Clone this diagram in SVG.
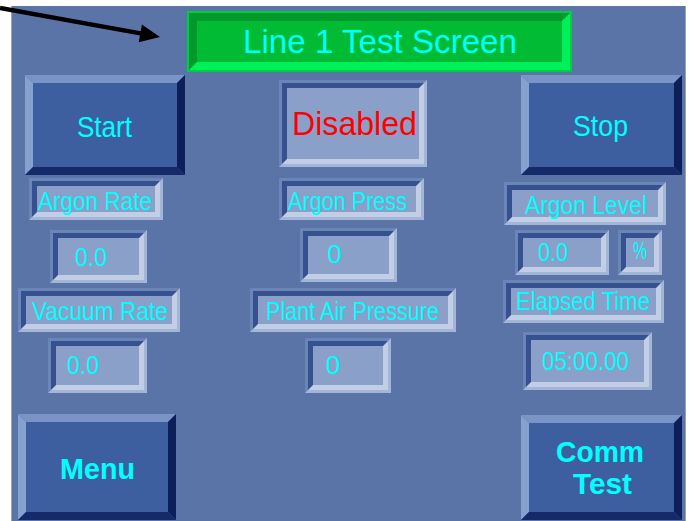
<svg xmlns="http://www.w3.org/2000/svg" width="691" height="521" viewBox="0 0 691 521">
  <style>
    .page { fill: #ffffff; }
    .panel { fill: #5b74a8; }
    .edge { fill: #9aa3b8; }
    .bf { fill: #3d5f9f; }
    .bt { fill: #7a94c5; }
    .bl { fill: #87a1cf; }
    .br { fill: #0d1f5a; }
    .bb { fill: #15296b; }
    .fr { fill: #6c85b7; }
    .fo { fill: #a4b6d7; }
    .dk { fill: #35518f; }
    .lt { fill: #c1cee6; }
    .fc { fill: #8aa0c8; }
    .t { font-family: "Liberation Sans", Arial, sans-serif; fill: #00ffff; text-anchor: middle; }
    .lbl { font-size: 25px; }
    .val { font-size: 26px; }
    .btxt { font-size: 30px; }
    .bold { font-size: 30px; font-weight: bold; }
    .arrow { stroke: #000000; stroke-width: 4.5; fill: none; }
    .head { fill: #000000; }
  </style>

  <!-- screen background -->
  <rect class="page" x="0" y="0" width="691" height="521"/>
  <rect class="panel" x="11" y="6" width="675" height="515"/>
  <rect class="edge" x="11" y="6" width="1" height="515"/>
  <rect class="edge" x="685" y="6" width="1" height="515"/>

  <!-- title banner -->
  <g id="title">
    <rect x="187" y="11" width="385" height="61" fill="#00cc44"/>
    <rect x="189" y="13" width="381" height="57" fill="#009a2a"/>
    <path d="M570,13 L570,70 L189,70 L197,62 L562,62 L562,21 Z" fill="#00f05a"/>
    <rect x="197" y="21" width="365" height="41" fill="#00bb33"/>
    <text class="t" x="380" y="53" font-size="34" textLength="274" lengthAdjust="spacingAndGlyphs">Line 1 Test Screen</text>
  </g>

  <!-- command buttons -->
  <g id="start">
    <rect class="bf" x="25" y="75" width="160" height="100"/>
    <polygon class="bt" points="25,75 185,75 177,83 33,83"/>
    <polygon class="bl" points="25,75 33,83 33,167 25,175"/>
    <polygon class="br" points="185,75 185,175 177,167 177,83"/>
    <polygon class="bb" points="25,175 185,175 177,167 33,167"/>
    <text class="t btxt" x="104.5" y="137" textLength="55" lengthAdjust="spacingAndGlyphs">Start</text>
  </g>

  <g id="stop">
    <rect class="bf" x="521" y="75" width="161" height="100"/>
    <polygon class="bt" points="521,75 682,75 674,83 529,83"/>
    <polygon class="bl" points="521,75 529,83 529,167 521,175"/>
    <polygon class="br" points="682,75 682,175 674,167 674,83"/>
    <polygon class="bb" points="521,175 682,175 674,167 529,167"/>
    <text class="t btxt" x="600.5" y="136" textLength="55" lengthAdjust="spacingAndGlyphs">Stop</text>
  </g>

  <g id="menu">
    <rect class="bf" x="18" y="414" width="158" height="106"/>
    <polygon class="bt" points="18,414 176,414 168,422 26,422"/>
    <polygon class="bl" points="18,414 26,422 26,512 18,520"/>
    <polygon class="br" points="176,414 176,520 168,512 168,422"/>
    <polygon class="bb" points="18,520 176,520 168,512 26,512"/>
    <text class="t bold" x="97.5" y="479" textLength="75" lengthAdjust="spacingAndGlyphs">Menu</text>
  </g>

  <g id="comm-test">
    <rect class="bf" x="521" y="415" width="161" height="105"/>
    <polygon class="bt" points="521,415 682,415 674,423 529,423"/>
    <polygon class="bl" points="521,415 529,423 529,512 521,520"/>
    <polygon class="br" points="682,415 682,520 674,512 674,423"/>
    <polygon class="bb" points="521,520 682,520 674,512 529,512"/>
    <text class="t bold" x="600" y="462" textLength="88" lengthAdjust="spacingAndGlyphs">Comm</text>
    <text class="t bold" x="602.5" y="494" textLength="59" lengthAdjust="spacingAndGlyphs">Test</text>
  </g>

  <!-- status display -->
  <g id="status">
    <rect class="fr" x="279" y="80" width="148" height="87"/>
    <path class="fo" d="M427,80 L427,167 L279,167 L282,164 L424,164 L424,83 Z"/>
    <rect class="dk" x="282" y="83" width="142" height="81"/>
    <path class="lt" d="M424,83 L424,164 L282,164 L287,159 L419,159 L419,88 Z"/>
    <rect class="fc" x="287" y="88" width="132" height="71"/>
    <text class="t" x="354.5" y="135" font-size="34" style="fill:#ff0000" textLength="125" lengthAdjust="spacingAndGlyphs">Disabled</text>
  </g>

  <!-- argon rate -->
  <g id="argon-rate-label">
    <rect class="fr" x="29" y="178" width="134" height="42"/>
    <path class="fo" d="M163,178 L163,220 L29,220 L32,217 L160,217 L160,181 Z"/>
    <rect class="dk" x="32" y="181" width="128" height="36"/>
    <path class="lt" d="M160,181 L160,217 L32,217 L37,212 L155,212 L155,186 Z"/>
    <rect class="fc" x="37" y="186" width="118" height="26"/>
    <text class="t lbl" x="95" y="210" textLength="114" lengthAdjust="spacingAndGlyphs">Argon Rate</text>
  </g>
  <g id="argon-rate-value">
    <rect class="fr" x="50" y="230" width="97" height="53"/>
    <path class="fo" d="M147,230 L147,283 L50,283 L53,280 L144,280 L144,233 Z"/>
    <rect class="dk" x="53" y="233" width="91" height="47"/>
    <path class="lt" d="M144,233 L144,280 L53,280 L58,275 L139,275 L139,238 Z"/>
    <rect class="fc" x="58" y="238" width="81" height="37"/>
    <text class="t val" x="91" y="266" textLength="32" lengthAdjust="spacingAndGlyphs">0.0</text>
  </g>

  <!-- vacuum rate -->
  <g id="vacuum-rate-label">
    <rect class="fr" x="18" y="288" width="162" height="44"/>
    <path class="fo" d="M180,288 L180,332 L18,332 L21,329 L177,329 L177,291 Z"/>
    <rect class="dk" x="21" y="291" width="156" height="38"/>
    <path class="lt" d="M177,291 L177,329 L21,329 L26,324 L172,324 L172,296 Z"/>
    <rect class="fc" x="26" y="296" width="146" height="28"/>
    <text class="t lbl" x="100" y="320" textLength="136" lengthAdjust="spacingAndGlyphs">Vacuum Rate</text>
  </g>
  <g id="vacuum-rate-value">
    <rect class="fr" x="48" y="338" width="99" height="55"/>
    <path class="fo" d="M147,338 L147,393 L48,393 L51,390 L144,390 L144,341 Z"/>
    <rect class="dk" x="51" y="341" width="93" height="49"/>
    <path class="lt" d="M144,341 L144,390 L51,390 L56,385 L139,385 L139,346 Z"/>
    <rect class="fc" x="56" y="346" width="83" height="39"/>
    <text class="t val" x="83" y="374" textLength="32" lengthAdjust="spacingAndGlyphs">0.0</text>
  </g>

  <!-- argon pressure -->
  <g id="argon-press-label">
    <rect class="fr" x="279" y="178" width="145" height="42"/>
    <path class="fo" d="M424,178 L424,220 L279,220 L282,217 L421,217 L421,181 Z"/>
    <rect class="dk" x="282" y="181" width="139" height="36"/>
    <path class="lt" d="M421,181 L421,217 L282,217 L287,212 L416,212 L416,186 Z"/>
    <rect class="fc" x="287" y="186" width="129" height="26"/>
    <text class="t lbl" x="347.5" y="210" textLength="119" lengthAdjust="spacingAndGlyphs">Argon Press</text>
  </g>
  <g id="argon-press-value">
    <rect class="fr" x="300" y="228" width="97" height="54"/>
    <path class="fo" d="M397,228 L397,282 L300,282 L303,279 L394,279 L394,231 Z"/>
    <rect class="dk" x="303" y="231" width="91" height="48"/>
    <path class="lt" d="M394,231 L394,279 L303,279 L308,274 L389,274 L389,236 Z"/>
    <rect class="fc" x="308" y="236" width="81" height="38"/>
    <text class="t val" x="334.5" y="263">0</text>
  </g>

  <!-- plant air pressure -->
  <g id="plant-air-label">
    <rect class="fr" x="250" y="288" width="206" height="44"/>
    <path class="fo" d="M456,288 L456,332 L250,332 L253,329 L453,329 L453,291 Z"/>
    <rect class="dk" x="253" y="291" width="200" height="38"/>
    <path class="lt" d="M453,291 L453,329 L253,329 L258,324 L448,324 L448,296 Z"/>
    <rect class="fc" x="258" y="296" width="190" height="28"/>
    <text class="t lbl" x="352.5" y="320" textLength="173" lengthAdjust="spacingAndGlyphs">Plant Air Pressure</text>
  </g>
  <g id="plant-air-value">
    <rect class="fr" x="305" y="338" width="86" height="55"/>
    <path class="fo" d="M391,338 L391,393 L305,393 L308,390 L388,390 L388,341 Z"/>
    <rect class="dk" x="308" y="341" width="80" height="49"/>
    <path class="lt" d="M388,341 L388,390 L308,390 L313,385 L383,385 L383,346 Z"/>
    <rect class="fc" x="313" y="346" width="70" height="39"/>
    <text class="t val" x="333" y="374">0</text>
  </g>

  <!-- argon level -->
  <g id="argon-level-label">
    <rect class="fr" x="504" y="182" width="162" height="43"/>
    <path class="fo" d="M666,182 L666,225 L504,225 L507,222 L663,222 L663,185 Z"/>
    <rect class="dk" x="507" y="185" width="156" height="37"/>
    <path class="lt" d="M663,185 L663,222 L507,222 L512,217 L658,217 L658,190 Z"/>
    <rect class="fc" x="512" y="190" width="146" height="27"/>
    <text class="t lbl" x="586" y="214" textLength="122" lengthAdjust="spacingAndGlyphs">Argon Level</text>
  </g>
  <g id="argon-level-value">
    <rect class="fr" x="515" y="230" width="94" height="45"/>
    <path class="fo" d="M609,230 L609,275 L515,275 L518,272 L606,272 L606,233 Z"/>
    <rect class="dk" x="518" y="233" width="88" height="39"/>
    <path class="lt" d="M606,233 L606,272 L518,272 L523,267 L601,267 L601,238 Z"/>
    <rect class="fc" x="523" y="238" width="78" height="29"/>
    <text class="t val" x="553" y="261" textLength="30" lengthAdjust="spacingAndGlyphs">0.0</text>
  </g>
  <g id="argon-level-unit">
    <rect class="fr" x="618" y="230" width="44" height="45"/>
    <path class="fo" d="M662,230 L662,275 L618,275 L621,272 L659,272 L659,233 Z"/>
    <rect class="dk" x="621" y="233" width="38" height="39"/>
    <path class="lt" d="M659,233 L659,272 L621,272 L626,267 L654,267 L654,238 Z"/>
    <rect class="fc" x="626" y="238" width="28" height="29"/>
    <text class="t" x="640" y="259" font-size="24" textLength="14" lengthAdjust="spacingAndGlyphs">%</text>
  </g>

  <!-- elapsed time -->
  <g id="elapsed-label">
    <rect class="fr" x="503" y="280" width="161" height="43"/>
    <path class="fo" d="M664,280 L664,323 L503,323 L506,320 L661,320 L661,283 Z"/>
    <rect class="dk" x="506" y="283" width="155" height="37"/>
    <path class="lt" d="M661,283 L661,320 L506,320 L511,315 L656,315 L656,288 Z"/>
    <rect class="fc" x="511" y="288" width="145" height="27"/>
    <text class="t lbl" x="583" y="310" textLength="134" lengthAdjust="spacingAndGlyphs">Elapsed Time</text>
  </g>
  <g id="elapsed-value">
    <rect class="fr" x="523" y="332" width="129" height="58"/>
    <path class="fo" d="M652,332 L652,390 L523,390 L526,387 L649,387 L649,335 Z"/>
    <rect class="dk" x="526" y="335" width="123" height="52"/>
    <path class="lt" d="M649,335 L649,387 L526,387 L531,382 L644,382 L644,340 Z"/>
    <rect class="fc" x="531" y="340" width="113" height="42"/>
    <text class="t val" x="585.5" y="370" textLength="87" lengthAdjust="spacingAndGlyphs">05:00.00</text>
  </g>

  <!-- pointer to the title banner -->
  <g id="connectors">
    <line class="arrow" x1="0" y1="8" x2="146" y2="34.4"/>
    <polygon class="head" points="160,37 141.9,24.5 138.7,42.3"/>
  </g>
</svg>
